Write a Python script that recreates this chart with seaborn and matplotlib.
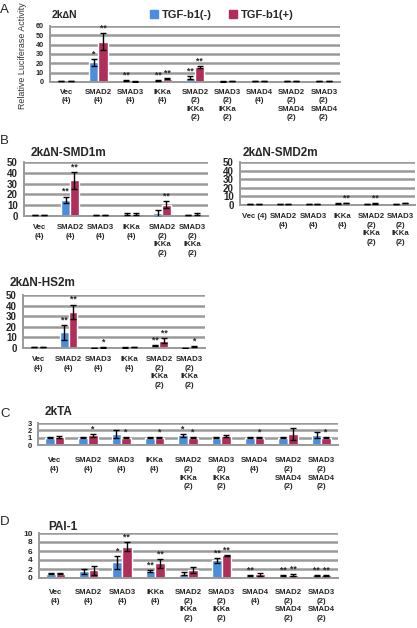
import matplotlib.pyplot as plt
from matplotlib.patches import Patch
import pandas as pd
import seaborn as sns

sns.set_style('white')
plt.rcParams['font.family'] = ['Liberation Sans', 'DejaVu Sans']

BLUE = '#4A8EDC'
RED = '#B02E5A'
GRID = '#9A9A9A'
W, H = 417, 628

# ---- data ----
full_labels = ['Vec\n(4)', 'SMAD2\n(4)', 'SMAD3\n(4)', 'IKKa\n(4)',
               'SMAD2\n(2)\nIKKa\n(2)', 'SMAD3\n(2)\nIKKa\n(2)', 'SMAD4\n(4)',
               'SMAD2\n(2)\nSMAD4\n(2)', 'SMAD3\n(2)\nSMAD4\n(2)']
short_labels = full_labels[:6]
short_labels_b2 = ['Vec (4)'] + full_labels[1:6]

# A: 2kdN
a_minus = [1.0, 21.0, 2.0, 2.0, 4.5, 0.5, 1.0, 1.0, 1.0]
a_plus = [1.0, 43.0, 0.5, 3.5, 16.5, 1.0, 1.0, 1.0, 1.0]
a_err_minus = [0.3, 3.5, 0.5, 0.5, 1.5, 0.2, 0.3, 0.3, 0.3]
a_err_plus = [0.3, 9.0, 0.2, 0.5, 1.0, 0.2, 0.3, 0.3, 0.3]
a_star_minus = ['', '*', '**', '**', '**', '', '', '', '']
a_star_plus = ['', '**', '', '**', '**', '', '', '', '']

# B: 2kdN-SMD1m
b1_minus = [1.0, 15.0, 1.0, 1.5, 2.5, 1.0]
b1_plus = [1.0, 33.0, 1.0, 1.5, 10.5, 1.5]
b1_err_minus = [0.3, 3.0, 0.3, 1.0, 3.0, 0.3]
b1_err_plus = [0.3, 8.0, 0.3, 1.0, 3.5, 1.0]
b1_star_minus = ['', '**', '', '', '', '']
b1_star_plus = ['', '**', '', '', '**', '']

# B: 2kdN-SMD2m
b2_minus = [1.0, 1.0, 1.0, 2.0, 1.0, 1.0]
b2_plus = [1.5, 1.5, 1.5, 2.5, 2.0, 2.0]
b2_err_minus = [0.2, 0.2, 0.2, 0.3, 0.2, 0.2]
b2_err_plus = [0.2, 0.2, 0.2, 0.4, 0.3, 0.2]
b2_star_minus = ['', '', '', '', '', '']
b2_star_plus = ['', '', '', '**', '**', '']

# B: 2kdN-HS2m
b3_minus = [1.0, 15.0, 0.2, 0.5, 2.5, 0.3]
b3_plus = [1.0, 34.0, 0.5, 1.0, 7.0, 1.0]
b3_err_minus = [0.3, 7.0, 0.1, 0.2, 0.5, 0.1]
b3_err_plus = [0.3, 7.0, 0.2, 0.3, 2.5, 0.5]
b3_star_minus = ['', '**', '', '', '**', '']
b3_star_plus = ['', '**', '*', '', '**', '*']

# C: 2kTA
c_minus = [1.0, 1.0, 1.5, 1.0, 1.3, 1.0, 1.0, 1.0, 1.4]
c_plus = [1.1, 1.3, 1.0, 1.0, 1.0, 1.2, 1.0, 1.5, 1.0]
c_err_minus = [0.1, 0.05, 0.5, 0.05, 0.2, 0.1, 0.05, 0.05, 0.4]
c_err_plus = [0.1, 0.25, 0.1, 0.1, 0.1, 0.15, 0.1, 0.8, 0.1]
c_star_minus = ['', '', '', '', '*', '', '', '', '']
c_star_plus = ['', '*', '*', '*', '*', '', '*', '', '*']

# D: PAI-1
d_minus = [1.0, 1.5, 3.5, 1.6, 1.0, 3.9, 0.5, 0.5, 0.6]
d_plus = [1.0, 1.7, 7.0, 3.3, 1.8, 5.1, 0.8, 0.7, 0.6]
d_err_minus = [0.1, 0.5, 1.5, 0.2, 0.4, 0.5, 0.1, 0.1, 0.1]
d_err_plus = [0.1, 1.0, 0.9, 1.0, 0.6, 0.1, 0.4, 0.15, 0.1]
d_star_minus = ['', '', '*', '**', '', '**', '**', '**', '**']
d_star_plus = ['', '', '**', '**', '', '**', '', '**', '**']


def px_axes(fig, left, right, top, bottom):
    return fig.add_axes([left / W, 1 - bottom / H, (right - left) / W, (bottom - top) / H])


def panel(ax, labels, minus, plus, e_minus, e_plus, s_minus, s_plus, ymax, ystep,
          ysize=5.5, pad=5):
    n = len(labels)
    df = pd.DataFrame({
        'construct': labels * 2,
        'treat': ['TGF-b1(-)'] * n + ['TGF-b1(+)'] * n,
        'value': minus + plus,
    })
    sns.barplot(data=df, x='construct', y='value', hue='treat',
                palette=[BLUE, RED], width=0.58, errorbar=None,
                legend=False, saturation=1, ax=ax, zorder=2)
    bars = ax.patches
    xs = [b.get_x() + b.get_width() / 2 for b in bars]
    hs = [b.get_height() for b in bars]
    errs = e_minus + e_plus
    ax.errorbar(xs, hs, yerr=errs, fmt='none', ecolor='black',
                elinewidth=1, capsize=2, capthick=1, zorder=3)
    for x, h, e, s in zip(xs, hs, errs, s_minus + s_plus):
        if s:
            ax.text(x, h + e + ymax * 0.01, s, ha='center', va='bottom',
                    fontsize=6.2, weight='bold')
    ax.set_ylim(0, ymax)
    ax.set_xlim(-0.5, n - 0.5)
    ax.set_yticks(range(0, ymax + 1, ystep))
    ax.yaxis.grid(True, color=GRID, lw=1.8)
    ax.set_axisbelow(True)
    for side in ['top', 'right']:
        ax.spines[side].set_visible(False)
    for side in ['left', 'bottom']:
        ax.spines[side].set_color(GRID)
        ax.spines[side].set_linewidth(1.4)
    ax.set_xticks(range(n))
    ax.set_xticklabels(labels, fontsize=5.6, weight='bold', linespacing=1.3)
    ax.set_xticks([i - 0.5 for i in range(n + 1)], minor=True)
    ax.tick_params(axis='x', which='major', length=0, pad=pad)
    ax.tick_params(axis='x', which='minor', length=2.5, color=GRID, direction='out')
    ax.tick_params(axis='y', length=3, color=GRID, direction='inout',
                   labelsize=ysize, pad=3)
    for t in ax.get_yticklabels():
        t.set_weight('bold')
    ax.set_xlabel(None)
    ax.set_ylabel(None)


fig = plt.figure(figsize=(W / 100, H / 100), dpi=100)

ax_a = px_axes(fig, 50, 340, 26, 82)
panel(ax_a, full_labels, a_minus, a_plus, a_err_minus, a_err_plus,
      a_star_minus, a_star_plus, 60, 10, ysize=5.2, pad=5)

ax_b1 = px_axes(fig, 24, 208, 162, 216)
panel(ax_b1, short_labels, b1_minus, b1_plus, b1_err_minus, b1_err_plus,
      b1_star_minus, b1_star_plus, 50, 10, ysize=7, pad=6)

ax_b2 = px_axes(fig, 240, 415, 162, 205)
panel(ax_b2, short_labels_b2, b2_minus, b2_plus, b2_err_minus, b2_err_plus,
      b2_star_minus, b2_star_plus, 50, 10, ysize=7, pad=6)

ax_b3 = px_axes(fig, 23, 205, 295, 348)
panel(ax_b3, short_labels, b3_minus, b3_plus, b3_err_minus, b3_err_plus,
      b3_star_minus, b3_star_plus, 50, 10, ysize=7, pad=6)

ax_c = px_axes(fig, 38, 338, 423, 445)
panel(ax_c, full_labels, c_minus, c_plus, c_err_minus, c_err_plus,
      c_star_minus, c_star_plus, 3, 1, ysize=5.5, pad=9)

ax_d = px_axes(fig, 39, 338, 533, 578)
panel(ax_d, full_labels, d_minus, d_plus, d_err_minus, d_err_plus,
      d_star_minus, d_star_plus, 10, 2, ysize=6, pad=8)

# titles and panel letters
def ftext(x, y, s, **kw):
    fig.text(x / W, 1 - y / H, s, **kw)

ftext(52, 15, '2k\u2206N', fontsize=7.5, weight='bold', va='center')
ftext(31, 153, '2k\u2206N-SMD1m', fontsize=8.5, weight='bold', va='center')
ftext(243, 153, '2k\u2206N-SMD2m', fontsize=8.5, weight='bold', va='center')
ftext(10, 283, '2k\u2206N-HS2m', fontsize=8.5, weight='bold', va='center')
ftext(45, 412, '2kTA', fontsize=8.5, weight='bold', va='center')
ftext(48, 527, 'PAI-1', fontsize=8.5, weight='bold', va='center')

for letter, y in [('A', 10), ('B', 141), ('C', 414), ('D', 522)]:
    ftext(0, y, letter, fontsize=9.5, va='center')

ftext(23, 56, 'Relative Luciferase Activity', fontsize=6.4, rotation=90,
      va='center', ha='center', color='#333333')

handles = [Patch(color=BLUE, label='TGF-b1(-)'), Patch(color=RED, label='TGF-b1(+)')]
fig.legend(handles=handles, loc='center', bbox_to_anchor=(222 / W, 1 - 15 / H),
           ncol=2, frameon=False, prop={'size': 8, 'weight': 'bold'},
           handlelength=0.7, handleheight=0.7, columnspacing=1.5, handletextpad=0.4)

fig.savefig('out.png', dpi=100)
